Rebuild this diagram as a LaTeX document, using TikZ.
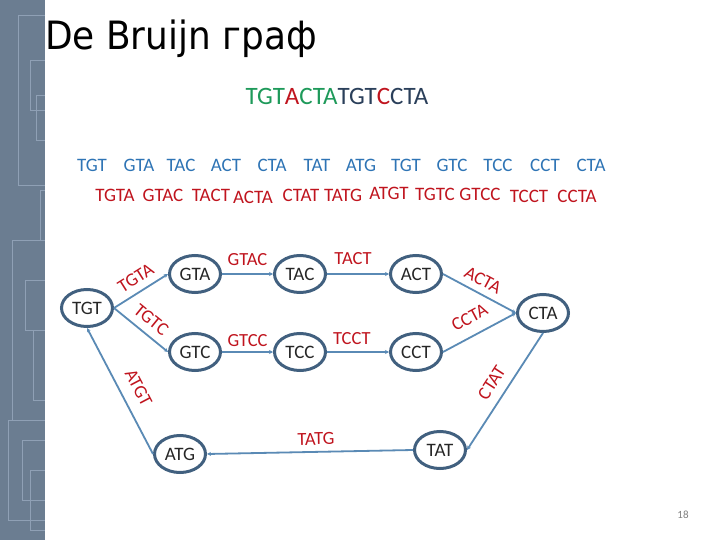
\documentclass[tikz,border=0pt]{standalone}
\usepackage{fontspec}
\setmainfont{Carlito}
\newfontfamily\titlefont[FakeStretch=0.92]{DejaVu Sans}
\usetikzlibrary{arrows.meta,shapes.geometric}
\definecolor{stripgray}{HTML}{6B7D91}
\definecolor{treeline}{HTML}{8FA0B5}
\definecolor{kmerblue}{HTML}{2E74B5}
\definecolor{edgered}{HTML}{C0141E}
\definecolor{edgeblue}{HTML}{5A8AB5}
\definecolor{ringblue}{HTML}{41607F}
\definecolor{seqgreen}{HTML}{1E9A5A}
\definecolor{seqdark}{HTML}{2A3F5A}
\begin{document}
\begin{tikzpicture}[x=1pt,y=-1pt,
  vertex/.style={ellipse,draw=ringblue,line width=3pt,minimum width=51pt,
    minimum height=37pt,inner sep=0pt,text=black!85,font=\fontsize{19}{21}\selectfont},
  link/.style={draw=edgeblue,line width=1.8pt,-{Stealth[length=4pt,width=4pt]}},
  elabel/.style={sloped,text=edgered,inner sep=1pt,font=\fontsize{18.5}{20}\selectfont},
  kmer/.style={text=kmerblue,inner sep=1pt,font=\fontsize{19}{21}\selectfont},
  pair/.style={text=edgered,inner sep=1pt,font=\fontsize{19}{21}\selectfont}]
\useasboundingbox (0,0) rectangle (720,540);
\fill[white] (0,0) rectangle (720,540);
% left strip with faint tree
\fill[stripgray] (0,0) rectangle (45,540);
\foreach \ya/\yb/\xx in {15/185/18,60/110/30,95/140/36,190/240/40,240/420/12,
    280/330/25,330/400/33,420/520/8,440/500/22,470/530/30}
  \draw[treeline,line width=0.6pt] (\xx,\ya) -- (\xx,\yb) (\xx,\ya) -- (45,\ya) (\xx,\yb) -- (45,\yb);
% title and sequence
\node[anchor=base west,inner sep=0pt,font=\titlefont\fontsize{39}{41}\selectfont] (title) at (45,50) {De Bruijn граф};
\node[anchor=base,inner sep=0pt,font=\fontsize{25}{28}\selectfont] (genome) at (337,105)
  {\textcolor{seqgreen}{TGT}\textcolor{edgered}{A}\textcolor{seqgreen}{CTA}\textcolor{seqdark}{TGT}\textcolor{edgered}{C}\textcolor{seqdark}{CTA}};
% k-mers
\foreach \k/\x [count=\i] in {TGT/92,GTA/139,TAC/181,ACT/226,CTA/272,TAT/317,
    ATG/361,TGT/406,GTC/452,TCC/498,CCT/545,CTA/591}
  \node[kmer] (k\i) at (\x,165) {\k};
\foreach \k/\x/\y [count=\i] in {TGTA/115/195,GTAC/163/195,TACT/211/195,ACTA/253/197,
    CTAT/301/195,TATG/343/195,ATGT/389/193,TGTC/435/194,GTCC/480/194,TCCT/529/196,CCTA/577/196}
  \node[pair] (p\i) at (\x,\y) {\k};
% graph
\node[vertex] (tgt) at (87,308) {TGT};
\node[vertex] (gta) at (195,274) {GTA};
\node[vertex] (tac) at (300,274) {TAC};
\node[vertex] (act) at (416,274) {ACT};
\node[vertex] (cta) at (543,313) {CTA};
\node[vertex] (gtc) at (195,352) {GTC};
\node[vertex] (tcc) at (300,352) {TCC};
\node[vertex] (cct) at (416,352) {CCT};
\node[vertex] (atg) at (180,454) {ATG};
\node[vertex] (tat) at (440,450) {TAT};
\draw[link] (tgt.east) -- node[elabel,pos=0.54,above=6pt] (lTGTA) {TGTA} (gta.west);
\draw[link] (tgt.east) -- node[elabel,pos=0.52,above=6.5pt] (lTGTC) {TGTC} (gtc.west);
\draw[link] (gta.east) -- node[elabel,pos=0.5,above=6pt] (lGTAC) {GTAC} (tac.west);
\draw[link] (tac.east) -- node[elabel,pos=0.42,above=7pt] (lTACT) {TACT} (act.west);
\draw[link] (act.east) -- node[elabel,pos=0.46,above=5.5pt] (lACTA) {ACTA} (cta.west);
\draw[link] (gtc.east) -- node[elabel,pos=0.5,above=3.5pt] (lGTCC) {GTCC} (tcc.west);
\draw[link] (tcc.east) -- node[elabel,pos=0.4,above=5.5pt] (lTCCT) {TCCT} (cct.west);
\draw[link] (cct.east) -- node[elabel,pos=0.48,above=10pt] (lCCTA) {CCTA} (cta.west);
\draw[link] (cta.south) -- node[elabel,pos=0.5,above=8pt] (lCTAT) {CTAT} (tat.east);
\draw[link] (tat.west) -- node[elabel,pos=0.47,above=5pt] (lTATG) {TATG} (atg.east);
\draw[link] (atg.west) -- node[elabel,pos=0.46,above=10pt] (lATGT) {ATGT} (tgt.south);
\node[text=gray,font=\fontsize{11}{12}\selectfont] (pagenum) at (683,515) {18};
\end{tikzpicture}
\end{document}
